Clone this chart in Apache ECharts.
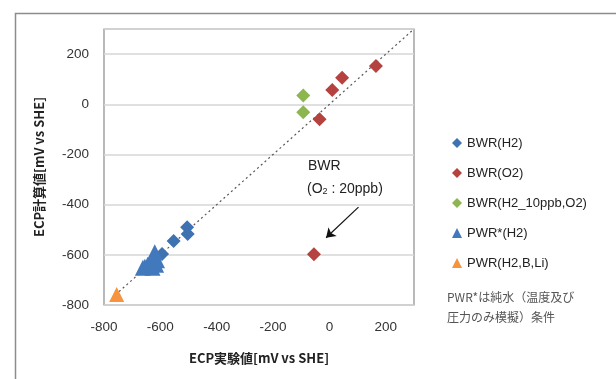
<!DOCTYPE html>
<html><head><meta charset="utf-8">
<script src="https://cdn.jsdelivr.net/npm/echarts@6/dist/echarts.min.js"></script>
<style>html,body{margin:0;padding:0;background:#fff}#c{width:616px;height:379px}</style>
</head><body><div id="c"></div>
<script>
// ---- data ----
const seriesNames = ['BWR(H2)', 'BWR(O2)', 'BWR(H2_10ppb,O2)', 'PWR*(H2)', 'PWR(H2,B,Li)'];
const bwrH2 = [[-505, -490], [-503, -517], [-553, -545], [-594, -597]];
const bwrO2 = [[165, 153], [45, 106], [10, 57], [-35, -60], [-55, -598]];
const bwrH2O2 = [[-93, 35], [-93, -32]];
const pwrStarH2 = [[-620, -590], [-625, -610], [-615, -640], [-635, -628], [-645, -640], [-655, -648], [-662, -652], [-628, -652], [-612, -622]];
const pwrH2BLi = [[-755, -758]];
const diagonal = [[-760, -760], [300, 300]];
const xTicks = [-800, -600, -400, -200, 0, 200];
const yTicks = [-800, -600, -400, -200, 0, 200];
const arrowFrom = [103, -410];
const arrowTo = [-12, -532];
const noteLines = ['PWR*は純水（温度及び', '圧力のみ模擬）条件'];

const C = {blue: '#3F72B0', red: '#B4423F', green: '#8DB550', tri: '#4279BC', orange: '#F7923E'};
const font = "'Liberation Sans', 'Noto Sans CJK JP', sans-serif";
const chart = echarts.init(document.getElementById('c'), null, {renderer: 'canvas'});

function sc(name, data, symbol, size, color) {
  return {name, type: 'scatter', data, symbol, symbolSize: size, itemStyle: {color, opacity: 1}, z: 3};
}

chart.setOption({
  animation: false,
  backgroundColor: '#fff',
  grid: {left: 104, top: 29, width: 310, height: 276, show: true, borderColor: '#8a8a8a', borderWidth: 1.2, backgroundColor: 'transparent'},
  xAxis: {
    type: 'value', min: -800, max: 300, interval: 200,
    axisLine: {show: false}, axisTick: {show: false}, splitLine: {show: false},
    axisLabel: {color: '#333', fontSize: 13.5, fontFamily: font, margin: 16,
      formatter: v => xTicks.includes(v) ? String(v) : ''},
    name: 'ECP実験値[mV vs SHE]', nameLocation: 'middle', nameGap: 47,
    nameTextStyle: {color: '#222', fontSize: 13, fontWeight: 'bold', fontFamily: "'Noto Sans CJK JP', sans-serif"}
  },
  yAxis: {
    type: 'value', min: -800, max: 300, interval: 200,
    axisLine: {show: false}, axisTick: {show: false},
    splitLine: {show: true, lineStyle: {color: '#d6d6d6', width: 1.6}},
    axisLabel: {color: '#333', fontSize: 13.5, fontFamily: font, margin: 15,
      formatter: v => yTicks.includes(v) ? String(v) : ''},
    name: 'ECP計算値[mV vs SHE]', nameLocation: 'middle', nameGap: 58,
    nameTextStyle: {color: '#222', fontSize: 13, fontWeight: 'bold', fontFamily: "'Noto Sans CJK JP', sans-serif"}
  },
  legend: {
    orient: 'vertical', left: 447, top: 131, itemWidth: 10, itemHeight: 10, itemGap: 16,
    textStyle: {color: '#222', fontSize: 13, fontFamily: font, lineHeight: 14},
    data: [
      {name: seriesNames[0], icon: 'diamond'},
      {name: seriesNames[1], icon: 'diamond'},
      {name: seriesNames[2], icon: 'diamond'},
      {name: seriesNames[3], icon: 'triangle'},
      {name: seriesNames[4], icon: 'triangle'}
    ]
  },
  series: [
    {name: 'diag', type: 'line', data: diagonal, showSymbol: false, silent: true, z: 2,
      lineStyle: {color: '#555', width: 1.2, type: [2, 3]},
      markLine: {silent: true, symbol: ['none', 'arrow'], symbolSize: 9, label: {show: false},
        lineStyle: {color: '#111', width: 1.2, type: 'solid'},
        data: [[{coord: arrowFrom}, {coord: arrowTo}]]}},
    sc(seriesNames[0], bwrH2, 'diamond', 14, C.blue),
    sc(seriesNames[1], bwrO2, 'diamond', 14, C.red),
    sc(seriesNames[2], bwrH2O2, 'diamond', 14, C.green),
    sc(seriesNames[3], pwrStarH2, 'triangle', 16, C.tri),
    sc(seriesNames[4], pwrH2BLi, 'triangle', 15, C.orange)
  ],
  graphic: [
    {type: 'rect', left: 13, top: 11, shape: {width: 700, height: 500}, silent: true,
      style: {fill: 'none', stroke: '#8c8c8c', lineWidth: 1.5}, z: -1},
    {type: 'text', left: 308, top: 159, style: {text: 'BWR', fill: '#222', font: "14px 'Liberation Sans', sans-serif"}},
    {type: 'text', left: 307, top: 182, style: {
      text: '(O{s|2} : 20ppb)', fill: '#222', font: "14px 'Liberation Sans', sans-serif",
      rich: {s: {fontSize: 9, padding: [5, 0, 0, 0], fill: '#222'}}}},
    {type: 'text', left: 447, top: 287, style: {text: noteLines.join('\n'), fill: '#555', lineHeight: 20,
      font: "12px 'Noto Sans CJK JP', sans-serif"}}
  ]
});
</script></body></html>
